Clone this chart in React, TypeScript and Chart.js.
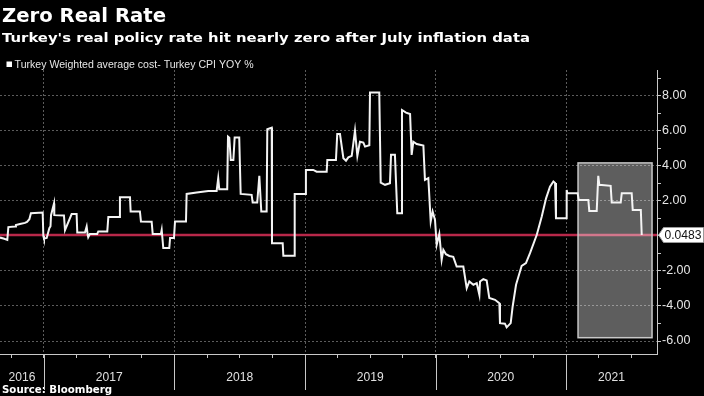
import React, { useEffect, useRef } from 'react';
import { Chart, registerables } from 'chart.js';

Chart.register(...registerables);

const TITLE = 'Zero Real Rate';
const SUBTITLE = "Turkey's real policy rate hit nearly zero after July inflation data";
const LEGEND = 'Turkey Weighted average cost- Turkey CPI YOY %';
const SOURCE = 'Source: Bloomberg';

const yearLabels = ['2016', '2017', '2018', '2019', '2020', '2021'];
const yearStarts = [2016, 2017, 2018, 2019, 2020, 2021];
const xRange = [2016.663, 2021.697];
const yRange = [-6.74, 9.46];
const lastValue = 0.0483;
const boxXRange = [2021.092, 2021.659];
const boxYRange = [-5.81, 4.16];

const dates = [
  2016.663, 2016.690, 2016.719, 2016.727, 2016.778, 2016.785, 2016.816, 2016.854, 2016.870, 2016.888,
  2016.900, 2016.990, 2016.995, 2017.000, 2017.021, 2017.041, 2017.050, 2017.054, 2017.077, 2017.079,
  2017.153, 2017.161, 2017.212, 2017.250, 2017.255, 2017.314, 2017.327, 2017.335, 2017.339, 2017.352,
  2017.408, 2017.416, 2017.485, 2017.493, 2017.577, 2017.582, 2017.659, 2017.664, 2017.735, 2017.743,
  2017.825, 2017.833, 2017.896, 2017.902, 2017.914, 2017.960, 2017.966, 2017.996, 2018.004, 2018.088,
  2018.093, 2018.170, 2018.259, 2018.323, 2018.335, 2018.343, 2018.404, 2018.410, 2018.420, 2018.431,
  2018.451, 2018.461, 2018.496, 2018.507, 2018.591, 2018.599, 2018.634, 2018.650, 2018.665, 2018.706,
  2018.711, 2018.745, 2018.747, 2018.829, 2018.834, 2018.916, 2018.921, 2019.000, 2019.007, 2019.063,
  2019.089, 2019.166, 2019.171, 2019.237, 2019.247, 2019.268, 2019.294, 2019.314, 2019.332, 2019.358,
  2019.383, 2019.401, 2019.421, 2019.447, 2019.460, 2019.493, 2019.498, 2019.569, 2019.580, 2019.613,
  2019.651, 2019.659, 2019.689, 2019.707, 2019.738, 2019.743, 2019.774, 2019.805, 2019.817, 2019.830,
  2019.856, 2019.907, 2019.919, 2019.945, 2019.963, 2019.978, 2019.996, 2020.009, 2020.029, 2020.047,
  2020.060, 2020.080, 2020.106, 2020.136, 2020.162, 2020.213, 2020.239, 2020.259, 2020.290, 2020.316,
  2020.336, 2020.341, 2020.366, 2020.392, 2020.412, 2020.456, 2020.489, 2020.494, 2020.532, 2020.545,
  2020.576, 2020.591, 2020.617, 2020.660, 2020.693, 2020.724, 2020.776, 2020.814, 2020.847, 2020.877,
  2020.903, 2020.916, 2020.923, 2021.000, 2021.005, 2021.010, 2021.089, 2021.097, 2021.171, 2021.178,
  2021.235, 2021.247, 2021.255, 2021.342, 2021.350, 2021.419, 2021.427, 2021.503, 2021.511, 2021.573,
  2021.580,
];

const realRate = [
  -0.10, -0.15, -0.23, 0.50, 0.53, 0.62, 0.68, 0.74, 0.80, 0.95,
  1.29, 1.33, 0.00, -0.15, -0.12, 0.44, 0.55, 1.18, 1.85, 1.18,
  1.16, 0.32, 1.24, 1.24, 0.19, 0.19, 0.53, 0.06, -0.08, 0.11,
  0.11, 0.25, 0.25, 1.07, 1.07, 2.20, 2.20, 1.39, 1.39, 0.82,
  0.80, 0.11, 0.11, 0.34, -0.70, -0.70, -0.13, -0.13, 0.82, 0.82,
  2.39, 2.47, 2.56, 2.56, 3.29, 2.66, 2.66, 5.66, 5.60, 4.33,
  4.33, 5.61, 5.61, 2.39, 2.34, 1.90, 1.90, 3.42, 1.39, 1.39,
  6.08, 6.17, -0.42, -0.42, -1.14, -1.14, 2.39, 2.39, 3.76, 3.76,
  3.66, 3.66, 4.33, 4.33, 5.81, 5.81, 4.43, 4.29, 4.48, 4.56,
  6.00, 4.56, 5.37, 5.32, 5.09, 5.17, 8.17, 8.17, 3.04, 2.91,
  3.00, 4.62, 4.62, 1.29, 1.29, 7.18, 7.03, 6.95, 4.62, 5.37,
  5.24, 5.15, 3.19, 3.29, 0.82, 1.39, 0.91, -0.51, 0.11, -1.37,
  -0.80, -1.05, -1.15, -1.20, -1.75, -1.75, -2.98, -2.60, -2.79, -2.70,
  -3.36, -2.60, -2.47, -2.55, -3.55, -3.65, -3.84, -4.98, -5.01, -5.22,
  -4.98, -4.03, -2.79, -1.71, -1.56, -0.99, 0.06, 1.10, 2.14, 2.81,
  3.10, 3.02, 1.01, 1.01, 2.62, 2.43, 2.43, 2.05, 2.05, 1.42,
  1.42, 3.42, 2.91, 2.85, 1.90, 1.90, 2.43, 2.43, 1.48, 1.48,
  0.0483,
];

function fitText(ctx: CanvasRenderingContext2D, text: string, x: number, y: number, font: string, targetW: number) {
  ctx.font = font;
  const w = ctx.measureText(text).width;
  ctx.save();
  ctx.translate(x, y);
  ctx.scale(targetW / w, 1);
  ctx.fillText(text, 0, 0);
  ctx.restore();
}

const decorPlugin = {
  id: 'decor',
  beforeDatasetsDraw(chart: any) {
    const { ctx, chartArea: a, scales } = chart;
    const x = scales.x, y = scales.y;
    const yv = y.getPixelForValue(lastValue);
    ctx.save();
    ctx.strokeStyle = '#b8284a';
    ctx.lineWidth = 2.5;
    ctx.beginPath();
    ctx.moveTo(a.left, yv);
    ctx.lineTo(a.right, yv);
    ctx.stroke();
    const bx1 = x.getPixelForValue(boxXRange[0]);
    const bx2 = x.getPixelForValue(boxXRange[1]);
    const by1 = y.getPixelForValue(boxYRange[1]);
    const by2 = y.getPixelForValue(boxYRange[0]);
    ctx.fillStyle = 'rgba(255,255,255,0.37)';
    ctx.fillRect(bx1, by1, bx2 - bx1, by2 - by1);
    ctx.strokeStyle = '#c8c8c8';
    ctx.lineWidth = 1.5;
    ctx.strokeRect(bx1, by1, bx2 - bx1, by2 - by1);
    ctx.restore();
  },
  afterDraw(chart: any) {
    const { ctx, chartArea: a, scales } = chart;
    const x = scales.x, y = scales.y;
    ctx.save();
    ctx.textBaseline = 'alphabetic';
    ctx.textAlign = 'left';
    ctx.fillStyle = '#ffffff';
    fitText(ctx, TITLE, 2, 22, 'bold 19.5px "DejaVu Sans"', 164);
    fitText(ctx, SUBTITLE, 2, 42, 'bold 13px "DejaVu Sans"', 528);
    ctx.fillRect(6.5, 61.5, 5.5, 5.5);
    ctx.fillStyle = '#e6e6e6';
    fitText(ctx, LEGEND, 14.6, 68, '11px "Liberation Sans"', 239);
    ctx.fillStyle = '#ffffff';
    fitText(ctx, SOURCE, 2, 393, 'bold 10.5px "DejaVu Sans"', 110);

    // year separators and labels
    ctx.strokeStyle = '#c8c8c8';
    ctx.lineWidth = 1;
    yearStarts.forEach((yr, i) => {
      const px = x.getPixelForValue(yr);
      if (px > a.left && px < a.right) {
        ctx.beginPath();
        ctx.moveTo(Math.round(px) + 0.5, a.bottom);
        ctx.lineTo(Math.round(px) + 0.5, 390);
        ctx.stroke();
      }
      const l = Math.max(a.left, px);
      const r = Math.min(a.right, x.getPixelForValue(yr + 1));
      const cx = (l + r) / 2;
      ctx.font = '13px "Liberation Sans"';
      const w = ctx.measureText(yearLabels[i]).width;
      ctx.fillStyle = '#e0e0e0';
      ctx.save();
      ctx.translate(cx, 377.5);
      ctx.scale(0.93, 1);
      ctx.textBaseline = 'middle';
      ctx.fillText(yearLabels[i], -w / 2, 0);
      ctx.restore();
    });

    // last value tag
    const yv = y.getPixelForValue(lastValue);
    const tx = a.right + 1.5;
    ctx.beginPath();
    ctx.moveTo(tx, yv);
    ctx.lineTo(tx + 5, yv - 7.5);
    ctx.lineTo(703.5, yv - 7.5);
    ctx.lineTo(703.5, yv + 7.5);
    ctx.lineTo(tx + 5, yv + 7.5);
    ctx.closePath();
    ctx.fillStyle = '#ffffff';
    ctx.fill();
    ctx.strokeStyle = '#9a9a9a';
    ctx.lineWidth = 1;
    ctx.stroke();
    ctx.fillStyle = '#111111';
    ctx.textBaseline = 'middle';
    fitText(ctx, lastValue.toString(), tx + 6, yv + 0.5, '12.5px "Liberation Sans"', 37);
    ctx.restore();
  },
};

export default function App() {
  const canvasRef = useRef<HTMLCanvasElement | null>(null);

  useEffect(() => {
    document.body.style.margin = '0';
    document.body.style.background = '#000';
    const canvas = canvasRef.current;
    if (!canvas) return;
    const points = dates.map((d, i) => ({ x: d, y: realRate[i] }));
    const chart = new Chart(canvas, {
      type: 'line',
      data: {
        datasets: [
          {
            label: LEGEND,
            data: points,
            borderColor: '#f4f4f4',
            borderWidth: 2,
            pointRadius: 0,
            tension: 0,
            fill: false,
          },
        ],
      },
      options: {
        animation: false,
        responsive: false,
        devicePixelRatio: 1,
        layout: { padding: { top: 70, left: 0, right: 0, bottom: 0 } },
        plugins: {
          legend: { display: false },
          title: { display: false },
          tooltip: { enabled: false },
        },
        scales: {
          x: {
            type: 'linear',
            min: xRange[0],
            max: xRange[1],
            afterFit: (s: any) => { s.height = 42; },
            ticks: { display: false, stepSize: 0.25, includeBounds: false },
            grid: {
              color: (c: any) => (c.tick && Math.abs(c.tick.value - Math.round(c.tick.value)) < 1e-6 ? '#5c5c5c' : 'rgba(0,0,0,0)'),
              tickColor: '#c8c8c8',
              tickLength: 4,
              drawTicks: true,
            },
            border: { display: true, color: '#c8c8c8', width: 1, dash: [2, 2] },
          },
          y: {
            type: 'linear',
            position: 'right',
            min: yRange[0],
            max: yRange[1],
            afterFit: (s: any) => { s.width = 47; },
            ticks: {
              stepSize: 1,
              includeBounds: false,
              padding: 1,
              color: '#e6e6e6',
              font: { family: '"Liberation Sans"', size: 12.5 },
              callback: (v: any) => {
                const n = Number(v);
                if (n === 0 || Math.abs(n % 2) === 1) return '';
                return n.toFixed(2);
              },
            },
            grid: {
              color: (c: any) => (c.tick && Math.abs(c.tick.value % 2) === 0 && c.tick.value !== 0 ? '#5c5c5c' : 'rgba(0,0,0,0)'),
              tickColor: '#c8c8c8',
              tickLength: 4,
            },
            border: { display: true, color: '#c8c8c8', width: 1, dash: [2, 2] },
          },
        },
      },
      plugins: [decorPlugin],
    });
    return () => chart.destroy();
  }, []);

  return (
    <div style={{ width: 704, height: 396, background: '#000', position: 'relative' }}>
      <canvas ref={canvasRef} width={704} height={396} style={{ display: 'block', width: 704, height: 396 }} />
    </div>
  );
}
